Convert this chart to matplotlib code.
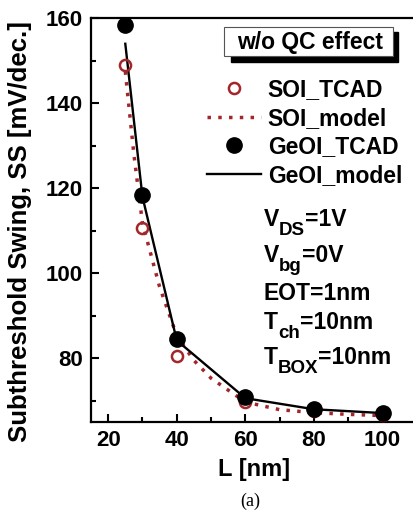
"""Subthreshold swing vs gate length, SOI vs GeOI (w/o QC effect)."""

import matplotlib

matplotlib.use("Agg")
import matplotlib.pyplot as plt
from matplotlib.lines import Line2D
from matplotlib.patches import Rectangle
from matplotlib.ticker import MultipleLocator

# data
L_TCAD = [25, 30, 40, 60, 80, 100]
SOI_TCAD = [149.1, 110.7, 80.6, 69.6, 67.6, 66.7]
GEOI_TCAD = [158.3, 118.3, 84.5, 70.8, 68.1, 67.2]

L_SOI_MODEL = [25, 27.5, 30, 35, 40, 45, 50, 60, 70, 80, 90, 100]
SOI_MODEL = [147.5, 128.0, 111.8, 96.8, 85.3, 79.5, 75.3, 69.7, 67.9, 67.2, 66.8, 66.5]

L_GEOI_MODEL = [25, 30, 40, 60, 80, 100]
GEOI_MODEL = [154.0, 118.0, 84.2, 70.6, 68.0, 67.1]

# (text, subscript, rest)
CONDITIONS = [
    ("V", "DS", "=1V"),
    ("V", "bg", "=0V"),
    ("EOT=1nm", "", ""),
    ("T", "ch", "=10nm"),
    ("T", "BOX", "=10nm"),
]
COND_BASELINE = [226, 262, 300, 329, 364]

RED = "#a3262a"
W, H = 414, 515
FS = 16.5

plt.rcParams["font.family"] = ["Liberation Sans", "DejaVu Sans"]
plt.rcParams["font.weight"] = "bold"


def fx(px):
    return px / W


def fy(py):
    return 1 - py / H


fig = plt.figure(figsize=(W / 100, H / 100), dpi=100)
ax = fig.add_axes([fx(91), fy(422), 95 * 3.43 / W, 95 * 4.25 / H])

ax.plot(L_SOI_MODEL, SOI_MODEL, ls=(0, (1, 2.1)), color=RED, lw=2.5,
        label="SOI_model", zorder=2)
ax.plot(L_GEOI_MODEL, GEOI_MODEL, color="black", lw=1.7,
        label="GeOI_model", zorder=3)
ax.plot(L_TCAD, SOI_TCAD, ls="none", marker="o", ms=8, mfc="none",
        mec=RED, mew=1.8, label="SOI_TCAD", zorder=4)
ax.plot(L_TCAD, GEOI_TCAD, ls="none", marker="o", ms=11, color="black",
        label="GeOI_TCAD", zorder=5)

ax.set_xlim(15, 110)
ax.set_ylim(65, 160)
ax.xaxis.set_major_locator(MultipleLocator(20))
ax.xaxis.set_minor_locator(MultipleLocator(10))
ax.yaxis.set_major_locator(MultipleLocator(20))
ax.yaxis.set_minor_locator(MultipleLocator(10))
ax.tick_params(which="both", direction="in", width=1.5, labelsize=16, pad=6)
ax.tick_params(which="major", length=6)
ax.tick_params(which="minor", length=3.5)
for side in ax.spines.values():
    side.set_linewidth(1.6)

ax.set_xlabel("L [nm]", fontsize=17, fontweight="bold", labelpad=5)
fig.text(fx(20), fy(232), "Subthreshold Swing, SS [mV/dec.]", rotation=90,
         ha="center", va="center", fontsize=18.5, fontweight="bold")

handles = [
    Line2D([], [], ls="none", marker="o", ms=8, mfc="none", mec=RED, mew=1.8),
    Line2D([], [], ls=(0, (1, 2.1)), color=RED, lw=2.5),
    Line2D([], [], ls="none", marker="o", ms=11, color="black"),
    Line2D([], [], color="black", lw=1.7),
]
labels = ["SOI_TCAD", "SOI_model", "GeOI_TCAD", "GeOI_model"]
fig.legend(handles, labels, loc="upper left", bbox_to_anchor=(fx(207), fy(78)),
           frameon=False, fontsize=FS, handlelength=2.35, handletextpad=0.3,
           labelspacing=0.25, borderaxespad=0, borderpad=0)

# boxed title with drop shadow
fig.patches.append(Rectangle((fx(231), fy(62)), fx(167), 30 / H,
                             transform=fig.transFigure, color="black", zorder=5))
fig.patches.append(Rectangle((fx(224), fy(56)), fx(169), 29 / H,
                             transform=fig.transFigure, facecolor="white",
                             edgecolor="#555555", lw=0.8, zorder=6))
fig.text(fx(310), fy(42), "w/o QC effect", ha="center", va="center",
         fontsize=FS, fontweight="bold", zorder=7)

renderer = fig.canvas.get_renderer()
for (main, sub, rest), base in zip(CONDITIONS, COND_BASELINE):
    t = fig.text(fx(264), fy(base), main, ha="left", va="baseline",
                 fontsize=FS, fontweight="bold")
    if sub:
        x1 = t.get_window_extent(renderer).x1 / W
        s = fig.text(x1, fy(base + 9), sub, ha="left", va="baseline",
                     fontsize=FS * 0.82, fontweight="bold")
        x2 = s.get_window_extent(renderer).x1 / W
        fig.text(x2, fy(base), rest, ha="left", va="baseline",
                 fontsize=FS, fontweight="bold")

fig.text(fx(250), fy(501), "(a)", ha="center", va="center", fontsize=13,
         family="Liberation Serif", fontweight="normal")

fig.savefig("out.png", dpi=100)
